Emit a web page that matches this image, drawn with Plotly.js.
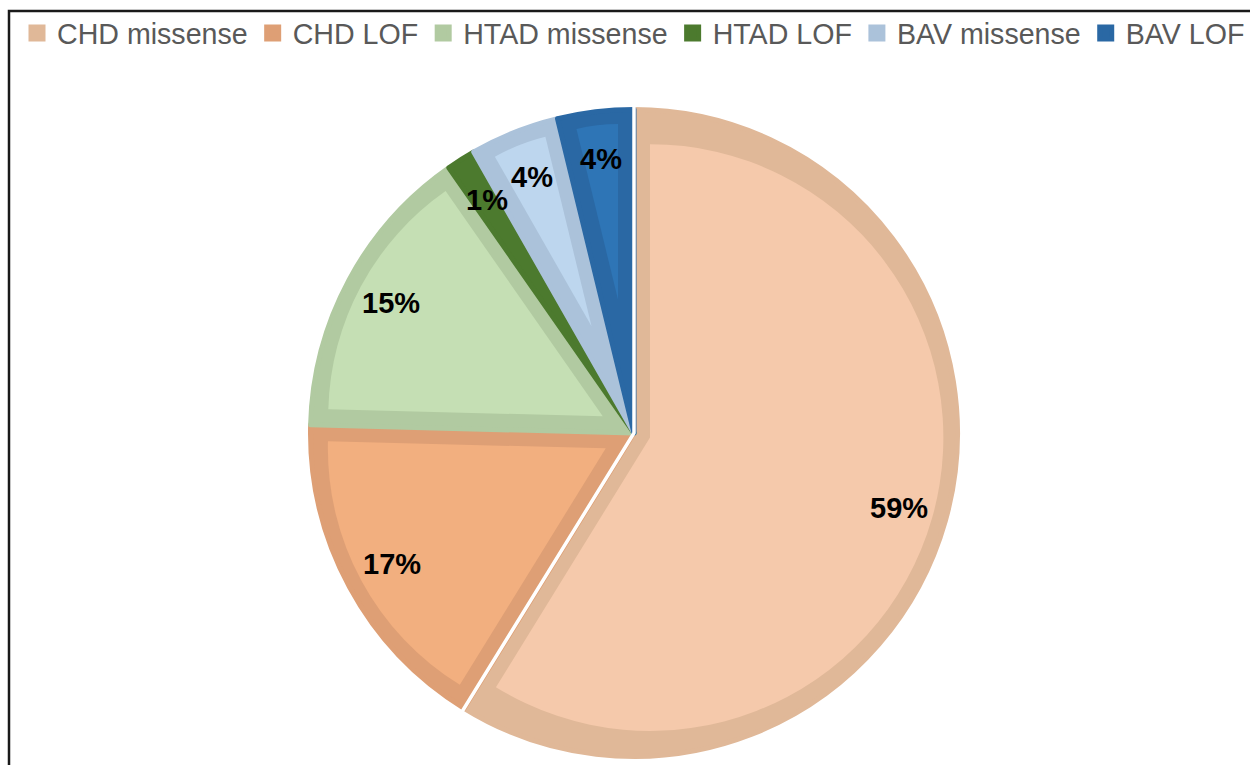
<!DOCTYPE html>
<html>
<head>
<meta charset="utf-8">
<script src="https://cdn.plot.ly/plotly-3.0.1.min.js"></script>
<style>html,body{margin:0;padding:0;background:#fff;}#chart{width:1250px;height:765px;}</style>
</head>
<body>
<div id="chart"></div>
<script>
// ---- data ----
const categories = ['CHD missense', 'CHD LOF', 'HTAD missense', 'HTAD LOF', 'BAV missense', 'BAV LOF'];
const shares = [58.8, 16.6, 14.9, 1.45, 4.45, 3.8];
const borderColors = ['#E0B898', '#DE9F75', '#B1CAA1', '#4C7A2E', '#ABC2DA', '#2A68A4'];
const fillColors = ['#F5C9AB', '#F2AF7F', '#C5DFB4', '#4F7F32', '#BDD6EE', '#2E75B6'];

// ---- geometry (styling) ----
const W = 1250, H = 765;
const CX = 634, CY = 433;      // pie centre in px
const ROUT = 326;              // outer radius incl. outline
const LW = 5;                  // outline width of base trace
const RB = ROUT - LW / 2;      // base pie radius
const BORDER = 16;             // inner-border thickness
const RI = ROUT - BORDER;      // inner region reach

function domainFor(half) {
  return {
    x: [(CX - half) / W, (CX + half) / W],
    y: [(H - CY - half) / H, (H - CY + half) / H]
  };
}

const total = shares.reduce((a, b) => a + b, 0);
const traces = [];

// base pie: border colours, gives legend
traces.push({
  type: 'pie',
  labels: categories,
  values: shares,
  sort: false,
  direction: 'clockwise',
  rotation: 0,
  textinfo: 'none',
  hoverinfo: 'label+percent',
  marker: { colors: borderColors, line: { color: borderColors, width: LW } },
  domain: domainFor(RB),
  showlegend: true
});

// inner fills: one trace per slice, pulled so the fill sits inside the border
const transparent = 'rgba(0,0,0,0)';
let cum = 0;
const mids = [];
shares.forEach((v, i) => {
  const frac = v / total;
  const half = Math.PI * frac;
  mids.push(2 * Math.PI * (cum + frac / 2));
  cum += frac;
  const a = BORDER / Math.sin(half);
  if (a >= RI * 0.8) return; // slice too thin for an inner fill
  const p = a / (RI - a);
  const cols = shares.map((_, j) => (j === i ? fillColors[i] : transparent));
  const pulls = shares.map((_, j) => (j === i ? p : 0));
  traces.push({
    type: 'pie',
    labels: categories,
    values: shares,
    sort: false,
    direction: 'clockwise',
    rotation: 0,
    textinfo: 'none',
    hoverinfo: 'skip',
    pull: pulls,
    marker: { colors: cols, line: { width: 0 } },
    domain: domainFor(RI),
    showlegend: false
  });
});

// white separation along the radial edges of the largest slice
// (its arc lies just outside the pie, so only the radial edges show)
traces.push({
  type: 'pie',
  labels: categories,
  values: shares,
  sort: false,
  direction: 'clockwise',
  rotation: 0,
  textinfo: 'none',
  hoverinfo: 'skip',
  marker: {
    colors: shares.map(() => transparent),
    line: { color: shares.map((_, j) => (j === 0 ? '#ffffff' : transparent)), width: 3.5 }
  },
  domain: domainFor(ROUT + 3),
  showlegend: false
});

// percentage labels placed along each slice bisector
const LABR = 0.845 * ROUT;
const annotations = shares.map((v, i) => {
  const th = mids[i];
  const px = CX + LABR * Math.sin(th);
  const py = CY - LABR * Math.cos(th);
  return {
    x: px / W, y: 1 - py / H, xref: 'paper', yref: 'paper',
    text: Math.round(v / total * 100) + '%',
    showarrow: false,
    xanchor: 'center', yanchor: 'middle',
    font: { family: 'Liberation Sans, Arial, sans-serif', size: 29, color: '#000000', weight: 'bold' }
  };
});

const layout = {
  width: W, height: H,
  margin: { l: 0, r: 0, t: 0, b: 0 },
  paper_bgcolor: '#ffffff',
  plot_bgcolor: '#ffffff',
  showlegend: true,
  legend: {
    orientation: 'h',
    x: 0.017, y: 1 - 8 / H, xanchor: 'left', yanchor: 'top',
    font: { family: 'Liberation Sans, Arial, sans-serif', size: 28.6, color: '#595959' },
    bgcolor: 'rgba(0,0,0,0)',
    traceorder: 'normal'
  },
  annotations: annotations,
  shapes: [{
    type: 'rect', xref: 'paper', yref: 'paper',
    x0: 9 / W, x1: 1.02, y0: -0.02, y1: 1 - 11 / H,
    line: { color: '#1a1a1a', width: 2.5 },
    fillcolor: 'rgba(0,0,0,0)', layer: 'above'
  }]
};

Plotly.newPlot('chart', traces, layout, { displayModeBar: false, staticPlot: true });
</script>
</body>
</html>
